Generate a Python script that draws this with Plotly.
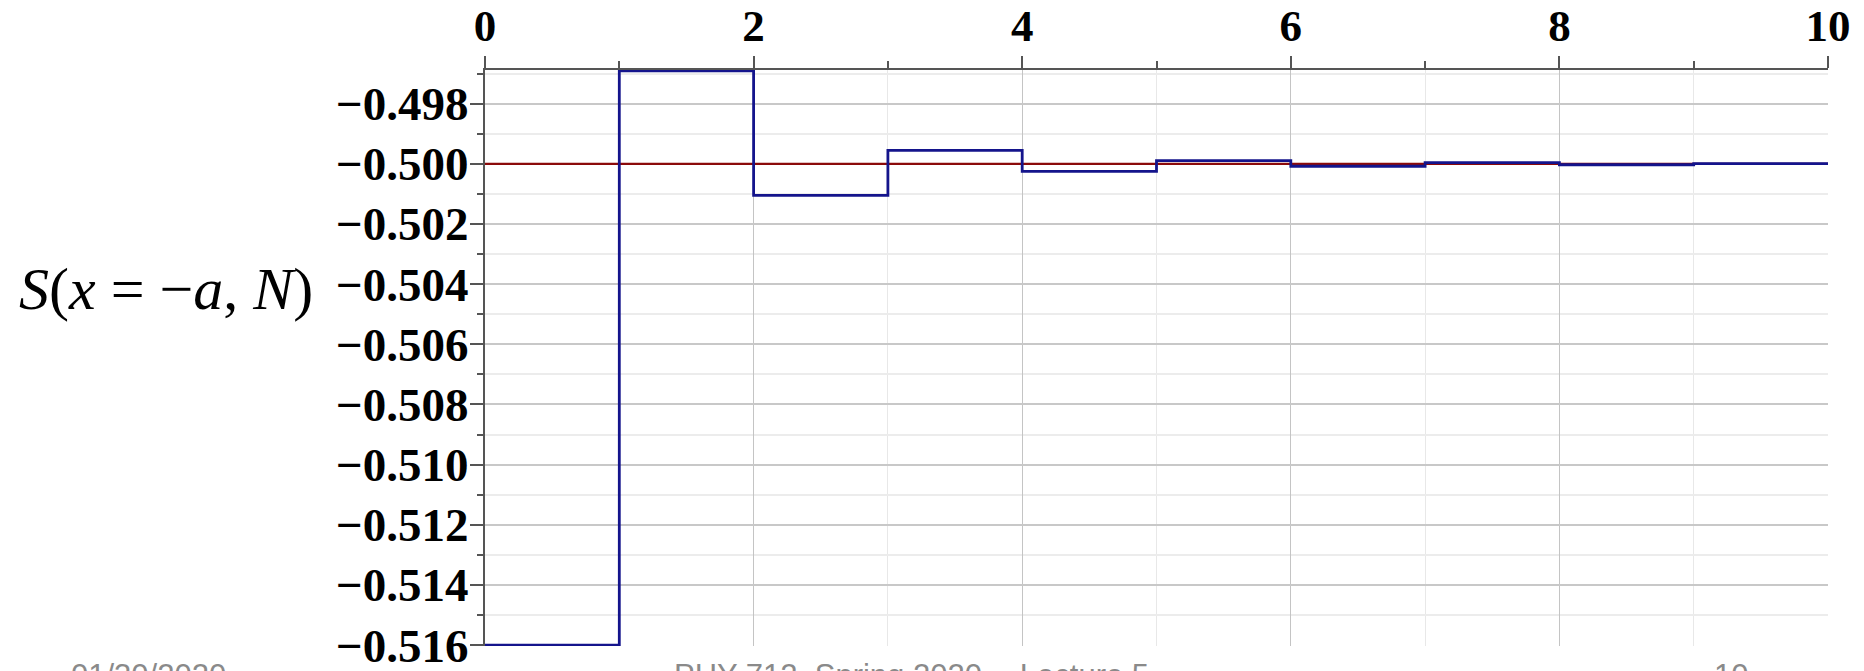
import plotly.graph_objects as go

# ---- data ----
N_edges = [0, 1, 2, 3, 4, 5, 6, 7, 8, 9, 10]
S_values = [-0.516, -0.49691, -0.50105, -0.49955, -0.50025,
            -0.49989, -0.50008, -0.49996, -0.50003, -0.49999]
limit_x = [0, 10]
limit_y = [-0.5, -0.5]

x_tickvals = [0, 2, 4, 6, 8, 10]
x_ticktext = ["0", "2", "4", "6", "8", "10"]
y_tickvals = [-0.498, -0.500, -0.502, -0.504, -0.506, -0.508,
              -0.510, -0.512, -0.514, -0.516]
y_ticktext = ["\u22120.498", "\u22120.500", "\u22120.502", "\u22120.504",
              "\u22120.506", "\u22120.508", "\u22120.510", "\u22120.512",
              "\u22120.514", "\u22120.516"]

footer_texts = ["01/30/2020", "PHY 712  Spring 2020 -- Lecture 5", "10"]

# ---- figure ----
W, H = 1864, 671
L, T = 485, 70
R = W - 1828
B = H - 646
pw = W - L - R
ph = H - T - B

def px_x(p):
    return (p - L) / pw

def px_y(p):
    return (H - B - p) / ph

fig = go.Figure()
fig.add_trace(go.Scatter(x=limit_x, y=limit_y, mode="lines",
                         line=dict(color="#8b0a0a", width=2.2),
                         hoverinfo="skip", showlegend=False))
fig.add_trace(go.Scatter(x=N_edges, y=S_values + [S_values[-1]], mode="lines",
                         line=dict(color="#14148c", width=2.8, shape="hv"),
                         showlegend=False))

fig.update_xaxes(
    side="top", range=[0, 10], tickmode="array",
    tickvals=x_tickvals, ticktext=x_ticktext,
    tickfont=dict(family="Liberation Serif", size=45, color="black", weight="bold"),
    showline=True, linecolor="#555555", linewidth=2,
    ticks="outside", ticklen=12, tickwidth=1.5, tickcolor="#555555",
    showgrid=True, gridcolor="#c4c4c4", gridwidth=1.3,
    zeroline=False, ticklabelstandoff=-3, ticklabeloverflow="allow",
    minor=dict(dtick=1, tick0=0, showgrid=True, gridcolor="#e8e8e8",
               gridwidth=1.3, ticks="outside", ticklen=7,
               tickcolor="#555555", tickwidth=1.5),
)
fig.update_yaxes(
    range=[-0.51603, -0.49688], tickmode="array",
    tickvals=y_tickvals, ticktext=y_ticktext,
    tickfont=dict(family="Liberation Serif", size=47, color="black", weight="bold"),
    showline=True, linecolor="#555555", linewidth=2,
    ticks="outside", ticklen=13, tickwidth=1.5, tickcolor="#555555",
    showgrid=True, gridcolor="#c8c8c8", gridwidth=1.5,
    zeroline=False, ticklabelstandoff=-8, ticklabeloverflow="allow",
    minor=dict(dtick=0.001, tick0=-0.516, showgrid=True, gridcolor="#ececec",
               gridwidth=1.5, ticks="outside", ticklen=6,
               tickcolor="#555555", tickwidth=1.5),
)

annotations = [
    dict(text="<i>S</i>(<i>x</i> = \u2212<i>a</i>, <i>N</i>)",
         xref="paper", yref="paper", x=px_x(17), y=px_y(289),
         xanchor="left", yanchor="middle", showarrow=False,
         font=dict(family="Liberation Serif", size=60, color="black")),
]
footer_x = [69, 672, 1712]
for t, fx in zip(footer_texts, footer_x):
    annotations.append(dict(text=t, xref="paper", yref="paper",
                            x=px_x(fx), y=px_y(656), xanchor="left", yanchor="top",
                            showarrow=False,
                            font=dict(family="Liberation Sans", size=31, color="#8a8a8a")))

fig.update_layout(
    width=W, height=H,
    margin=dict(l=L, r=R, t=T, b=B, autoexpand=False),
    paper_bgcolor="white", plot_bgcolor="white",
    annotations=annotations,
)

fig.write_html("out.html",
               config={"displayModeBar": False},
               post_script="document.body.style.margin='0';document.body.style.overflow='hidden';")
